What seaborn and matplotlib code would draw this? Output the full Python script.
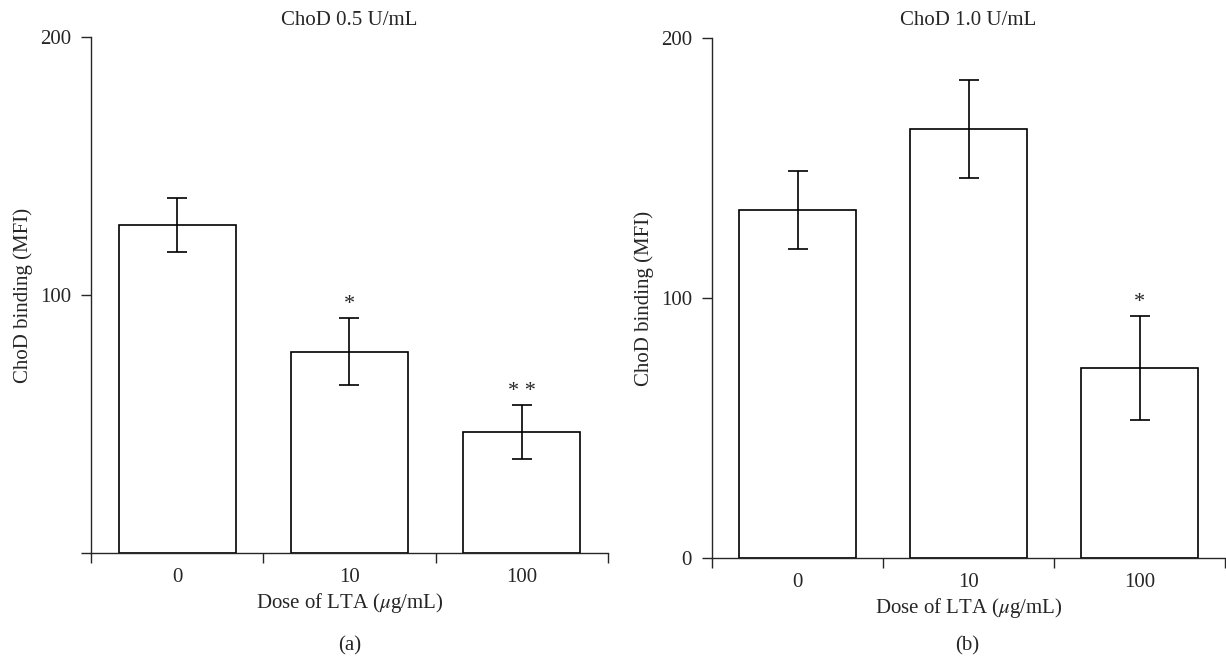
import numpy as np
import matplotlib
matplotlib.use("Agg")
import matplotlib.pyplot as plt
import seaborn as sns

# Data
doses = ["0", "10", "100"]
mean_05 = [127, 78, 47]
err_05 = [10.5, 13, 10.5]
sig_05 = ["", "*", "* *"]
mean_10 = [134, 165, 73]
err_10 = [15, 19, 20]
sig_10 = ["", "", "*"]
titles = ["ChoD 0.5 U/mL", "ChoD 1.0 U/mL"]
panel_tags = ["(a)", "(b)"]

sns.set_style("ticks")
plt.rcParams["font.family"] = ["Liberation Serif", "DejaVu Serif"]
plt.rcParams["mathtext.fontset"] = "stix"
plt.rcParams["font.size"] = 15

fig = plt.figure(figsize=(12.26, 6.62), dpi=100)
ax1 = fig.add_axes([0.0742, 0.1647, 0.4217, 0.7794])
ax2 = fig.add_axes([0.5808, 0.1571, 0.4184, 0.7855])

panels = [
    (ax1, mean_05, err_05, sig_05, ["", "100", "200"]),
    (ax2, mean_10, err_10, sig_10, ["0", "100", "200"]),
]

for i, (ax, means, errs, sigs, ylabels) in enumerate(panels):
    sns.barplot(x=doses, y=means, color="white", edgecolor="black",
                linewidth=1.2, width=0.68, saturation=1, ax=ax)
    ax.errorbar(range(len(doses)), means, yerr=errs, fmt="none",
                ecolor="black", elinewidth=1.2, capsize=7.5, capthick=1.2)
    for j, s in enumerate(sigs):
        if s:
            ax.text(j, means[j] + errs[j] + 1.5, s, ha="center", va="bottom",
                    fontsize=16)

    ax.set_xlim(-0.5, 2.5)
    ax.set_ylim(0, 200)
    ax.set_yticks([0, 100, 200])
    ax.set_yticklabels(ylabels)
    ax.set_xticks([0, 1, 2])
    ax.set_xticklabels(doses)
    ax.set_xticks([-0.5, 0.5, 1.5, 2.5], minor=True)
    ax.tick_params(axis="x", which="major", length=0, pad=11, labelsize=15)
    ax.tick_params(axis="x", which="minor", length=7.5, width=1.0, direction="out")
    ax.tick_params(axis="y", length=7.5, width=1.0, pad=7, labelsize=15)
    for sp in ["left", "bottom"]:
        ax.spines[sp].set_linewidth(1.0)
    sns.despine(ax=ax)

    ax.set_xlabel(r"Dose of LTA ($\mu$g/mL)", fontsize=15, labelpad=3)
    ax.set_ylabel("ChoD binding (MFI)", fontsize=15, labelpad=5)
    ax.set_title(titles[i], fontsize=15, pad=9)

fig.text(0.285, 0.025, panel_tags[0], ha="center", va="center", fontsize=15)
fig.text(0.789, 0.025, panel_tags[1], ha="center", va="center", fontsize=15)

fig.savefig("out.png", dpi=100)
